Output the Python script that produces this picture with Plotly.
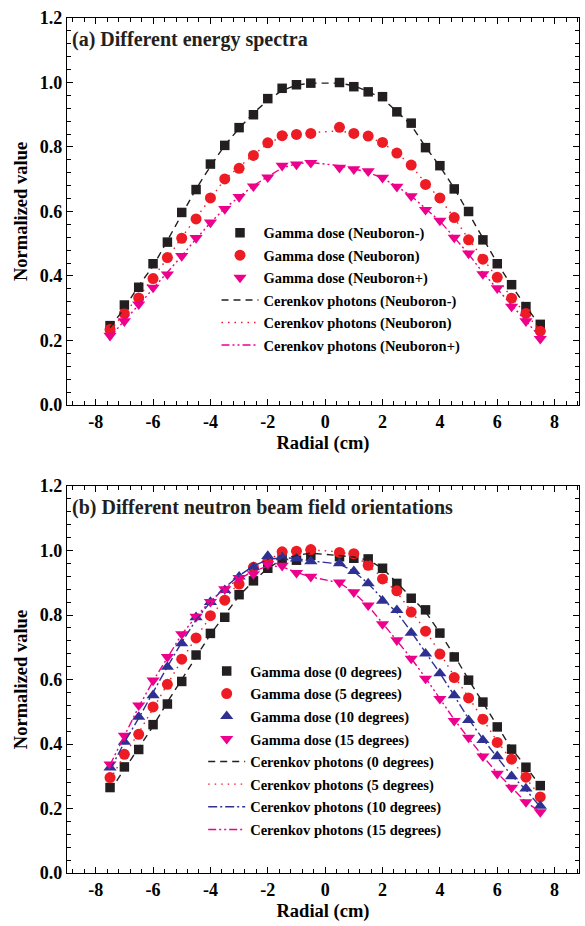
import plotly.graph_objects as go

# ---------------- data ----------------
radial = [-7.5, -7.0, -6.5, -6.0, -5.5, -5.0, -4.5, -4.0, -3.5, -3.0, -2.5, -2.0, -1.5, -1.0, -0.5,
          0.5, 1.0, 1.5, 2.0, 2.5, 3.0, 3.5, 4.0, 4.5, 5.0, 5.5, 6.0, 6.5, 7.0, 7.5]

# (a) Different energy spectra
gamma_nb_minus = [0.246, 0.310, 0.365, 0.438, 0.505, 0.597, 0.668, 0.747, 0.805, 0.860, 0.900, 0.950, 0.982, 0.993, 0.998,
                  1.000, 0.987, 0.971, 0.956, 0.909, 0.874, 0.798, 0.742, 0.670, 0.600, 0.512, 0.438, 0.373, 0.305, 0.250]
gamma_nb = [0.234, 0.283, 0.332, 0.392, 0.457, 0.517, 0.577, 0.642, 0.701, 0.734, 0.774, 0.813, 0.835, 0.839, 0.842,
            0.861, 0.842, 0.834, 0.814, 0.781, 0.744, 0.684, 0.642, 0.581, 0.512, 0.452, 0.396, 0.331, 0.284, 0.229]
gamma_nb_plus = [0.215, 0.260, 0.312, 0.364, 0.405, 0.462, 0.518, 0.566, 0.608, 0.645, 0.678, 0.706, 0.742, 0.746, 0.751,
                 0.736, 0.731, 0.725, 0.705, 0.677, 0.648, 0.605, 0.572, 0.519, 0.470, 0.406, 0.362, 0.305, 0.260, 0.205]
cer_nb_minus = [0.240, 0.300, 0.370, 0.430, 0.510, 0.590, 0.670, 0.740, 0.805, 0.858, 0.905, 0.945, 0.975, 0.992, 0.998,
                0.998, 0.990, 0.972, 0.950, 0.910, 0.868, 0.800, 0.740, 0.672, 0.595, 0.515, 0.440, 0.370, 0.305, 0.245]
cer_nb = [0.230, 0.285, 0.335, 0.395, 0.455, 0.520, 0.580, 0.640, 0.700, 0.738, 0.776, 0.810, 0.833, 0.842, 0.845,
          0.850, 0.842, 0.832, 0.812, 0.782, 0.742, 0.688, 0.640, 0.580, 0.515, 0.455, 0.395, 0.333, 0.282, 0.232]
cer_nb_plus = [0.210, 0.262, 0.310, 0.360, 0.410, 0.462, 0.515, 0.565, 0.610, 0.646, 0.680, 0.708, 0.735, 0.748, 0.752,
               0.742, 0.733, 0.722, 0.703, 0.678, 0.648, 0.608, 0.570, 0.520, 0.468, 0.410, 0.360, 0.308, 0.258, 0.210]

# (b) Different neutron beam field orientations
gamma_0 = [0.265, 0.329, 0.383, 0.460, 0.524, 0.594, 0.676, 0.743, 0.793, 0.863, 0.906, 0.945, 0.974, 0.970, 0.985,
           0.981, 0.976, 0.974, 0.945, 0.898, 0.852, 0.816, 0.744, 0.670, 0.598, 0.530, 0.453, 0.384, 0.328, 0.271]
gamma_5 = [0.296, 0.368, 0.430, 0.515, 0.585, 0.663, 0.729, 0.798, 0.846, 0.896, 0.948, 0.968, 0.996, 0.998, 1.003,
           0.994, 0.990, 0.954, 0.912, 0.875, 0.809, 0.750, 0.679, 0.606, 0.543, 0.477, 0.405, 0.353, 0.297, 0.236]
gamma_10 = [0.327, 0.407, 0.484, 0.551, 0.639, 0.712, 0.793, 0.840, 0.877, 0.919, 0.948, 0.983, 0.979, 0.975, 0.966,
            0.960, 0.936, 0.898, 0.844, 0.815, 0.745, 0.680, 0.619, 0.551, 0.474, 0.412, 0.362, 0.300, 0.262, 0.208]
gamma_15 = [0.337, 0.426, 0.520, 0.597, 0.670, 0.741, 0.795, 0.841, 0.880, 0.915, 0.927, 0.958, 0.953, 0.931, 0.919,
            0.901, 0.871, 0.830, 0.772, 0.722, 0.665, 0.603, 0.540, 0.472, 0.420, 0.362, 0.308, 0.265, 0.220, 0.189]
cer_0 = [0.255, 0.322, 0.390, 0.455, 0.530, 0.600, 0.672, 0.740, 0.800, 0.860, 0.905, 0.945, 0.972, 0.985, 0.992,
         0.985, 0.980, 0.970, 0.945, 0.900, 0.855, 0.810, 0.745, 0.675, 0.600, 0.528, 0.455, 0.385, 0.330, 0.270]
cer_5 = [0.290, 0.365, 0.435, 0.510, 0.585, 0.660, 0.730, 0.795, 0.850, 0.900, 0.945, 0.972, 0.992, 1.000, 1.002,
         0.996, 0.985, 0.955, 0.915, 0.870, 0.812, 0.752, 0.682, 0.610, 0.545, 0.478, 0.408, 0.350, 0.295, 0.238]
cer_10 = [0.320, 0.405, 0.480, 0.560, 0.640, 0.715, 0.785, 0.840, 0.885, 0.922, 0.952, 0.972, 0.978, 0.975, 0.968,
          0.958, 0.935, 0.898, 0.850, 0.808, 0.748, 0.684, 0.620, 0.550, 0.478, 0.415, 0.360, 0.302, 0.258, 0.205]
cer_15 = [0.335, 0.425, 0.515, 0.595, 0.668, 0.740, 0.795, 0.843, 0.882, 0.912, 0.935, 0.952, 0.950, 0.932, 0.918,
          0.900, 0.870, 0.828, 0.775, 0.722, 0.666, 0.605, 0.542, 0.476, 0.418, 0.362, 0.310, 0.264, 0.220, 0.190]

x_tick_vals = [-8, -6, -4, -2, 0, 2, 4, 6, 8]
x_tick_text = ["-8", "-6", "-4", "-2", "0", "2", "4", "6", "8"]
y_tick_vals = [0.0, 0.2, 0.4, 0.6, 0.8, 1.0, 1.2]
y_tick_text = ["0.0", "0.2", "0.4", "0.6", "0.8", "1.0", "1.2"]

labels_a = ["Gamma dose (Neuboron-)", "Gamma dose (Neuboron)", "Gamma dose (Neuboron+)",
            "Cerenkov photons (Neuboron-)", "Cerenkov photons (Neuboron)", "Cerenkov photons (Neuboron+)"]
labels_b = ["Gamma dose (0 degrees)", "Gamma dose (5 degrees)", "Gamma dose (10 degrees)", "Gamma dose (15 degrees)",
            "Cerenkov photons (0 degrees)", "Cerenkov photons (5 degrees)", "Cerenkov photons (10 degrees)",
            "Cerenkov photons (15 degrees)"]

# ---------------- styles ----------------
BLACK = "#231F20"
RED = "#ED1C24"
MAGENTA = "#EC008C"
BLUE = "#2E3192"
FONT = "Liberation Serif"

fig = go.Figure()


def add_marker(y, name, color, symbol, size, xa, ya, legend, grp):
    fig.add_trace(go.Scatter(x=radial, y=y, mode="markers", name=name,
                             marker=dict(color=color, symbol=symbol, size=size, line=dict(width=0)),
                             xaxis=xa, yaxis=ya, legend=legend, legendgroup=grp))


def add_line(y, name, color, dash, xa, ya, legend, grp):
    fig.add_trace(go.Scatter(x=radial, y=y, mode="lines", name=name,
                             line=dict(color=color, dash=dash, width=1.4),
                             xaxis=xa, yaxis=ya, legend=legend, legendgroup=grp))


# panel (a)
add_marker(gamma_nb_minus, labels_a[0], BLACK, "square", 9.5, "x", "y", "legend", "a1")
add_marker(gamma_nb, labels_a[1], RED, "circle", 11, "x", "y", "legend", "a2")
add_marker(gamma_nb_plus, labels_a[2], MAGENTA, "triangle-down", 11.5, "x", "y", "legend", "a3")
add_line(cer_nb_minus, labels_a[3], BLACK, "7px,5px", "x", "y", "legend", "a4")
add_line(cer_nb, labels_a[4], RED, "1.5px,5px", "x", "y", "legend", "a5")
add_line(cer_nb_plus, labels_a[5], MAGENTA, "8px,3px,2px,3px,2px,3px", "x", "y", "legend", "a6")

# panel (b)
add_marker(gamma_0, labels_b[0], BLACK, "square", 9.5, "x2", "y2", "legend2", "b1")
add_marker(gamma_5, labels_b[1], RED, "circle", 11, "x2", "y2", "legend2", "b2")
add_marker(gamma_10, labels_b[2], BLUE, "triangle-up", 11.5, "x2", "y2", "legend2", "b3")
add_marker(gamma_15, labels_b[3], MAGENTA, "triangle-down", 11.5, "x2", "y2", "legend2", "b4")
add_line(cer_0, labels_b[4], BLACK, "7px,5px", "x2", "y2", "legend2", "b5")
add_line(cer_5, labels_b[5], RED, "1.5px,5px", "x2", "y2", "legend2", "b6")
add_line(cer_10, labels_b[6], BLUE, "9px,3px,2px,3px", "x2", "y2", "legend2", "b7")
add_line(cer_15, labels_b[7], MAGENTA, "8px,3px,2px,3px,2px,3px", "x2", "y2", "legend2", "b8")

tick_font = dict(family=FONT, size=18, color="black", weight="bold")
title_font = dict(family=FONT, size=18.5, color="black", weight="bold")


def xaxis(domain_anchor):
    return dict(range=[-9, 8.85], tickmode="array", tickvals=x_tick_vals, ticktext=x_tick_text,
                ticks="inside", ticklen=6, tickwidth=1.3, tickcolor="black",
                minor=dict(tick0=0, dtick=0.4, ticks="inside", ticklen=3.5, tickwidth=1.1, tickcolor="black"),
                showline=True, linecolor="black", linewidth=1.3, mirror="allticks",
                showgrid=False, zeroline=False, tickfont=tick_font, anchor=domain_anchor,
                title=dict(text="Radial (cm)", font=title_font, standoff=5))


def yaxis(domain, anchor):
    return dict(range=[0, 1.2], domain=domain, tickmode="array", tickvals=y_tick_vals, ticktext=y_tick_text,
                ticks="inside", ticklen=6, tickwidth=1.3, tickcolor="black",
                minor=dict(tick0=0, dtick=0.04, ticks="inside", ticklen=3.5, tickwidth=1.1, tickcolor="black"),
                showline=True, linecolor="black", linewidth=1.3, mirror="allticks",
                showgrid=False, zeroline=False, tickfont=tick_font, anchor=anchor,
                title=dict(text="Normalized value", font=title_font, standoff=7))


legend_font = dict(family=FONT, size=14.5, color="black", weight="bold")

fig.update_layout(
    width=585, height=926,
    margin=dict(l=67, r=6, t=18, b=53),
    paper_bgcolor="white", plot_bgcolor="white",
    showlegend=True,
    xaxis=xaxis("y"),
    yaxis=yaxis([0.5474, 1.0], "x"),
    xaxis2=xaxis("y2"),
    yaxis2=yaxis([0.0, 0.4526], "x2"),
    legend=dict(x=0.292, y=0.7675, xanchor="left", yanchor="top", font=legend_font,
                bgcolor="rgba(0,0,0,0)", tracegroupgap=0.6, itemwidth=37, itemclick=False),
    legend2=dict(x=0.266, y=0.255, xanchor="left", yanchor="top", font=legend_font,
                 bgcolor="rgba(0,0,0,0)", tracegroupgap=0.8, itemwidth=37, itemclick=False),
    annotations=[
        dict(text="(a) Different energy spectra", xref="x domain", yref="y domain", x=0.006, y=0.944,
             xanchor="left", yanchor="middle", showarrow=False,
             font=dict(family=FONT, size=20, color=BLACK, weight="bold")),
        dict(text="(b) Different neutron beam field orientations", xref="x2 domain", yref="y2 domain",
             x=0.006, y=0.944, xanchor="left", yanchor="middle", showarrow=False,
             font=dict(family=FONT, size=20, color=BLACK, weight="bold")),
    ],
)

fig.write_html("out.html")
